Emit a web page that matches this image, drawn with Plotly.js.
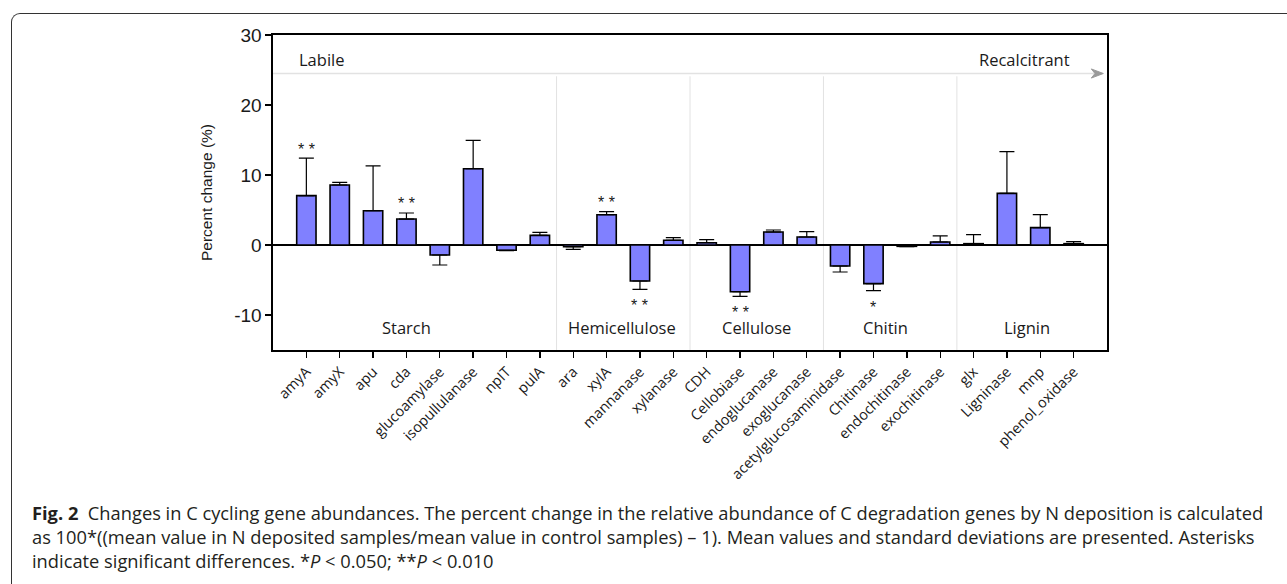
<!DOCTYPE html>
<html>
<head>
<meta charset="utf-8">
<script src="https://cdn.plot.ly/plotly-3.0.1.min.js"></script>
<style>
  html, body { margin: 0; padding: 0; background: #ffffff; }
  #wrap { position: relative; width: 1287px; height: 584px; overflow: hidden; }
  #plot { width: 1287px; height: 584px; }
  #frame { position: absolute; left: 11px; top: 13px; width: 1300px; height: 600px;
           border-left: 1.4px solid #333333; border-top: 1.4px solid #333333;
           border-top-left-radius: 9px; pointer-events: none; box-sizing: border-box; }
</style>
</head>
<body>
<div id="wrap">
  <div id="plot"></div>
  <div id="frame"></div>
</div>
<script>
// ---------------- data ----------------
const genes = ["amyA","amyX","apu","cda","glucoamylase","isopullulanase","npIT","pulA",
               "ara","xylA","mannanase","xylanase",
               "CDH","Cellobiase","endoglucanase","exoglucanase",
               "acetylglucosaminidase","Chitinase","endochitinase","exochitinase",
               "glx","Ligninase","mnp","phenol_oxidase"];
const percentChange = [7.05, 8.57, 4.90, 3.71, -1.43, 10.90, -0.76, 1.38,
                       -0.24, 4.33, -5.14, 0.67,
                       0.33, -6.67, 1.86, 1.14,
                       -3.00, -5.52, -0.19, 0.43,
                       0.19, 7.38, 2.48, 0.19];
const stdDev = [5.35, 0.38, 6.39, 0.86, 1.43, 4.05, 0.05, 0.43,
                0.38, 0.43, 1.19, 0.38,
                0.43, 0.66, 0.28, 0.76,
                0.86, 1.00, 0.05, 0.86,
                1.29, 5.95, 1.85, 0.29];
const significance = ["**","","","**","","","","",
                      "","**","**","",
                      "","**","","",
                      "","*","","",
                      "","","",""];
const groupNames = ["Starch","Hemicellulose","Cellulose","Chitin","Lignin"];
const groupSizes = [8, 4, 4, 4, 4];
const gradientLabels = ["Labile","Recalcitrant"];
const captionLines = [
  "<b>Fig. 2</b>\u00a0\u00a0Changes in C cycling gene abundances. The percent change in the relative abundance of C degradation genes by N deposition is calculated",
  "as 100*((mean value in N deposited samples/mean value in control samples) \u2013 1). Mean values and standard deviations are presented. Asterisks",
  "indicate significant differences. *<i>P</i> &lt; 0.050; **<i>P</i> &lt; 0.010"
];

// ---------------- styling / layout ----------------
const BAR = "#8080ff";
const GREY_LINE = "#e2e2e2";
const labelFont = {family: "Open Sans, Noto Sans, sans-serif", size: 16.5, color: "#1a1a1a"};

const errPlus = percentChange.map((v, i) => v >= 0 ? stdDev[i] : 0);
const errMinus = percentChange.map((v, i) => v < 0 ? stdDev[i] : 0);

const trace = {
  type: "bar",
  x: genes,
  y: percentChange,
  width: 0.58,
  marker: {color: BAR, line: {color: "#000000", width: 1.6}},
  error_y: {type: "data", symmetric: false, array: errPlus, arrayminus: errMinus,
            color: "#000000", thickness: 1.2, width: 7.5},
  hoverinfo: "x+y"
};

const shapes = [];
const annotations = [];

// group dividers and labels
let start = 0;
const labelShift = [-0.5, -0.05, 0, -0.15, 0.1];
groupNames.forEach((name, gi) => {
  const end = start + groupSizes[gi] - 1;
  if (gi > 0) {
    shapes.push({type: "line", xref: "x", yref: "y", x0: start - 0.5, x1: start - 0.5,
                 y0: 24.1, y1: -15, line: {color: GREY_LINE, width: 1}, layer: "below"});
  }
  annotations.push({xref: "x", yref: "y", x: (start + end) / 2 + labelShift[gi], y: -11.75,
                    text: name, showarrow: false, font: labelFont,
                    xanchor: "center", yanchor: "middle"});
  start = end + 1;
});

// gradient arrow
shapes.push({type: "line", xref: "x", yref: "y", x0: -1, x1: 23.7, y0: 24.5, y1: 24.5,
             line: {color: GREY_LINE, width: 1.5}, layer: "below"});
shapes.push({type: "path", xref: "x", yref: "y",
             path: "M 23.53,25.15 L 23.89,24.5 L 23.53,23.85 L 23.64,24.5 Z",
             fillcolor: "#9a9a9a", line: {color: "#9a9a9a", width: 1}});
annotations.push({xref: "x", yref: "y", x: -0.27, y: 26.5, text: gradientLabels[0],
                  showarrow: false, font: labelFont, xanchor: "left", yanchor: "middle"});
annotations.push({xref: "x", yref: "y", x: 22.95, y: 26.5, text: gradientLabels[1],
                  showarrow: false, font: labelFont, xanchor: "right", yanchor: "middle"});

// significance asterisks
significance.forEach((s, i) => {
  if (!s) return;
  const v = percentChange[i];
  const yy = v >= 0 ? v + stdDev[i] + 1.3 : v - stdDev[i] - 2.35;
  annotations.push({xref: "x", yref: "y", x: genes[i], y: yy, text: s.split("").join(" "),
                    showarrow: false, xanchor: "center", yanchor: "middle",
                    font: {family: "Liberation Sans, Arial, sans-serif", size: 16, color: "#1a1a1a"}});
});

// caption (one multi-line text block)
const plotLeft = 273, plotW = 834, plotBottom = 350, plotH = 315;
annotations.push({xref: "paper", yref: "paper",
                  x: (30 - plotLeft) / plotW, y: (plotBottom - 536) / plotH,
                  text: captionLines.join("<br>"), showarrow: false,
                  xanchor: "left", yanchor: "middle", align: "left",
                  font: {family: "Open Sans, Noto Sans, sans-serif", size: 18.3, color: "#231f20"}});

const layout = {
  width: 1287, height: 584,
  margin: {l: plotLeft, r: 1287 - plotLeft - plotW, t: 35, b: 584 - plotBottom, pad: 0},
  paper_bgcolor: "#ffffff", plot_bgcolor: "#ffffff",
  showlegend: false,
  xaxis: {
    type: "category", range: [-1, 24], tickangle: -45,
    showline: true, mirror: true, linecolor: "#000000", linewidth: 1.6,
    ticks: "outside", ticklen: 6, tickwidth: 1.4, tickcolor: "#000000",
    showgrid: false, zeroline: false, automargin: false,
    tickfont: {family: "Open Sans, Noto Sans, sans-serif", size: 14.5, color: "#1a1a1a"}
  },
  yaxis: {
    range: [-15, 30], tickvals: [-10, 0, 10, 20, 30], ticktext: ["-10","0","10","20","30"],
    showline: true, mirror: true, linecolor: "#000000", linewidth: 1.6,
    ticks: "outside", ticklen: 6, tickwidth: 1.4, tickcolor: "#000000",
    showgrid: false, zeroline: true, zerolinecolor: "#000000", zerolinewidth: 1.8,
    automargin: false,
    tickfont: {family: "Liberation Sans, Arial, sans-serif", size: 19, color: "#1a1a1a"},
    title: {text: "Percent change (%)", standoff: 18,
            font: {family: "Liberation Sans, Arial, sans-serif", size: 15.5, color: "#1a1a1a"}}
  },
  shapes: shapes,
  annotations: annotations
};

Plotly.newPlot("plot", [trace], layout, {displayModeBar: false, staticPlot: true});
</script>
</body>
</html>
